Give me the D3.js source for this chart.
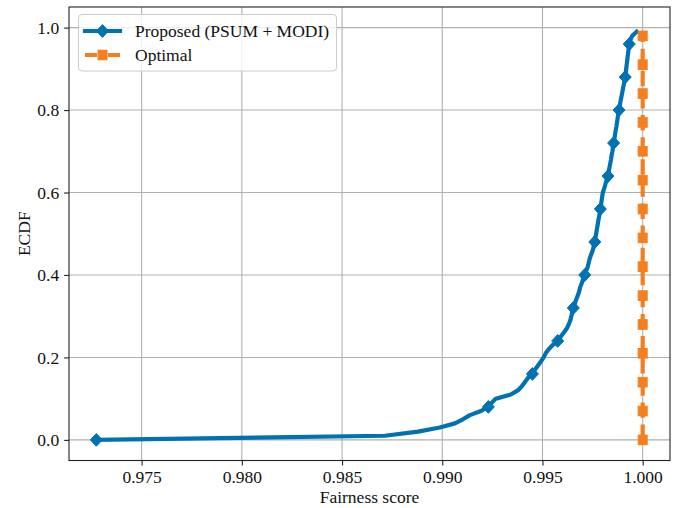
<!DOCTYPE html>
<html>
<head>
<meta charset="utf-8">
<script src="https://cdn.jsdelivr.net/npm/d3@7"></script>
<style>
  html, body { margin: 0; padding: 0; background: #fff; }
  svg { display: block; }
  text { font-family: "Liberation Serif", "DejaVu Serif", serif; fill: #111; }
</style>
</head>
<body>
<svg id="chart" width="680" height="508"></svg>
<script>
// Sorted fairness scores from the PSUM + MODI pipeline (100 runs)
const proposedScores = [
  0.97274, 0.98714, 0.98879, 0.98988, 0.99063, 0.99103, 0.99138, 0.99193, 0.99230, 0.99247,
  0.99267, 0.99342, 0.99377, 0.99397, 0.99412, 0.99427, 0.99450, 0.99462, 0.99477, 0.99492,
  0.99506, 0.99516, 0.99531, 0.99551, 0.99576, 0.99591, 0.99606, 0.99621, 0.99631, 0.99639,
  0.99644, 0.99649, 0.99654, 0.99661, 0.99668, 0.99676, 0.99683, 0.99688, 0.99696, 0.99703,
  0.99711, 0.99718, 0.99726, 0.99731, 0.99736, 0.99743, 0.99751, 0.99756, 0.99761, 0.99764,
  0.99768, 0.99771, 0.99775, 0.99778, 0.99782, 0.99786, 0.99789, 0.99792, 0.99795, 0.99798,
  0.99801, 0.99808, 0.99814, 0.99820, 0.99827, 0.99830, 0.99834, 0.99838, 0.99842, 0.99845,
  0.99849, 0.99852, 0.99855, 0.99859, 0.99862, 0.99865, 0.99869, 0.99872, 0.99875, 0.99878,
  0.99882, 0.99885, 0.99889, 0.99893, 0.99897, 0.99901, 0.99905, 0.99909, 0.99913, 0.99915,
  0.99918, 0.99920, 0.99923, 0.99925, 0.99928, 0.99930, 0.99933, 0.99938, 0.99948, 0.99970
];

// Optimal assignment reaches perfect fairness in every run
const optimalScores = [
  1.0, 1.0, 1.0, 1.0, 1.0, 1.0, 1.0, 1.0, 1.0, 1.0,
  1.0, 1.0, 1.0, 1.0, 1.0, 1.0, 1.0, 1.0, 1.0, 1.0,
  1.0, 1.0, 1.0, 1.0, 1.0, 1.0, 1.0, 1.0, 1.0, 1.0,
  1.0, 1.0, 1.0, 1.0, 1.0, 1.0, 1.0, 1.0, 1.0, 1.0,
  1.0, 1.0, 1.0, 1.0, 1.0, 1.0, 1.0, 1.0, 1.0, 1.0,
  1.0, 1.0, 1.0, 1.0, 1.0, 1.0, 1.0, 1.0, 1.0, 1.0,
  1.0, 1.0, 1.0, 1.0, 1.0, 1.0, 1.0, 1.0, 1.0, 1.0,
  1.0, 1.0, 1.0, 1.0, 1.0, 1.0, 1.0, 1.0, 1.0, 1.0,
  1.0, 1.0, 1.0, 1.0, 1.0, 1.0, 1.0, 1.0, 1.0, 1.0,
  1.0, 1.0, 1.0, 1.0, 1.0, 1.0, 1.0, 1.0, 1.0, 1.0
];

const seriesNames = ["Proposed (PSUM + MODI)", "Optimal"];
const xTicks = [0.975, 0.980, 0.985, 0.990, 0.995, 1.000];
const yTicks = [0.0, 0.2, 0.4, 0.6, 0.8, 1.0];
const xLabel = "Fairness score";
const yLabel = "ECDF";

const BLUE = "#0072b2";
const ORANGE = "#f57f20";

// Build ECDF points: i / n for the i-th sorted value
function ecdf(values) {
  const n = values.length;
  return values.map((v, i) => ({ x: v, y: i / n, i }));
}
const series = [
  { name: seriesNames[0], points: ecdf(proposedScores), color: BLUE, marker: "diamond", every: 8, dash: null },
  { name: seriesNames[1], points: ecdf(optimalScores), color: ORANGE, marker: "square", every: 7, dash: "15.4,6.7" }
];

const svg = d3.select("#chart");
const plot = { left: 69, right: 670, top: 7, bottom: 460.5 };

// Axis limits padded 5% around the data range
const allX = proposedScores.concat(optimalScores);
const xMin = d3.min(allX), xMax = d3.max(allX);
const xPad = (xMax - xMin) * 0.05;
const x = d3.scaleLinear().domain([xMin - xPad, xMax + xPad]).range([plot.left, plot.right]);
const y = d3.scaleLinear().domain([-0.05, 1.05]).range([plot.bottom, plot.top]);

// Grid
const grid = svg.append("g");
grid.selectAll("line.gx").data(xTicks).join("line")
  .attr("x1", d => x(d)).attr("x2", d => x(d))
  .attr("y1", plot.top).attr("y2", plot.bottom)
  .attr("stroke", "#b0b0b0").attr("stroke-width", 1.1);
grid.selectAll("line.gy").data(yTicks).join("line")
  .attr("x1", plot.left).attr("x2", plot.right)
  .attr("y1", d => y(d)).attr("y2", d => y(d))
  .attr("stroke", "#b0b0b0").attr("stroke-width", 1.1);

// Clip for data marks
svg.append("clipPath").attr("id", "plot-clip").append("rect")
  .attr("x", plot.left).attr("y", plot.top)
  .attr("width", plot.right - plot.left).attr("height", plot.bottom - plot.top);

const marks = svg.append("g").attr("clip-path", "url(#plot-clip)");
const line = d3.line().x(d => x(d.x)).y(d => y(d.y));

const diamondPath = "M0,-6.4L6,0L0,6.4L-6,0Z";
function drawMarker(sel, kind, color) {
  if (kind === "diamond") {
    sel.append("path").attr("d", diamondPath)
      .attr("fill", color).attr("stroke", color).attr("stroke-width", 1);
  } else {
    sel.append("rect").attr("x", -4.5).attr("y", -4.8).attr("width", 9).attr("height", 9.6)
      .attr("fill", color).attr("stroke", color).attr("stroke-width", 1);
  }
}

series.forEach(s => {
  const p = marks.append("path").datum(s.points)
    .attr("d", line)
    .attr("fill", "none")
    .attr("stroke", s.color)
    .attr("stroke-width", 4.2)
    .attr("stroke-linejoin", "round")
    .attr("stroke-linecap", s.dash ? "butt" : "square");
  if (s.dash) p.attr("stroke-dasharray", s.dash);
  const pts = s.points.filter(d => d.i % s.every === 0);
  marks.selectAll(null).data(pts).join("g")
    .attr("transform", d => `translate(${x(d.x)},${y(d.y)})`)
    .each(function () { drawMarker(d3.select(this), s.marker, s.color); });
});

// Axes
const fontSize = 17.5;
const xAxis = svg.append("g").attr("transform", `translate(0,${plot.bottom})`)
  .call(d3.axisBottom(x).tickValues(xTicks).tickFormat(d3.format(".3f")).tickSize(4.9).tickPadding(4.9));
const yAxis = svg.append("g").attr("transform", `translate(${plot.left},0)`)
  .call(d3.axisLeft(y).tickValues(yTicks).tickFormat(d3.format(".1f")).tickSize(4.9).tickPadding(4.9));
[xAxis, yAxis].forEach(a => {
  a.select(".domain").remove();
  a.selectAll(".tick line").attr("stroke", "#222").attr("stroke-width", 1.1);
  a.selectAll(".tick text").attr("font-family", "Liberation Serif").attr("font-size", fontSize).attr("fill", "#111");
});

// Spines
svg.append("rect")
  .attr("x", plot.left).attr("y", plot.top)
  .attr("width", plot.right - plot.left).attr("height", plot.bottom - plot.top)
  .attr("fill", "none").attr("stroke", "#222").attr("stroke-width", 1.1);

// Axis labels
svg.append("text")
  .attr("x", (plot.left + plot.right) / 2).attr("y", 503)
  .attr("text-anchor", "middle").attr("font-size", fontSize)
  .text(xLabel);
svg.append("text")
  .attr("transform", `translate(30,${(plot.top + plot.bottom) / 2}) rotate(-90)`)
  .attr("text-anchor", "middle").attr("font-size", fontSize)
  .text(yLabel);

// Legend
const legend = svg.append("g");
legend.append("rect")
  .attr("x", 78.5).attr("y", 14.5).attr("width", 258).attr("height", 56.5)
  .attr("rx", 3.5).attr("ry", 3.5)
  .attr("fill", "#fff").attr("fill-opacity", 0.8)
  .attr("stroke", "#cccccc").attr("stroke-width", 1);
series.forEach((s, k) => {
  const cy = 31 + k * 24;
  const g = legend.append("g");
  const l = g.append("line")
    .attr("x1", 85).attr("x2", 120).attr("y1", cy).attr("y2", cy)
    .attr("stroke", s.color).attr("stroke-width", 4.2)
    .attr("stroke-linecap", s.dash ? "butt" : "square");
  if (s.dash) l.attr("stroke-dasharray", "12,11,12");
  const m = g.append("g").attr("transform", `translate(102.5,${cy})`);
  drawMarker(m, s.marker, s.color);
  g.append("text")
    .attr("x", 135).attr("y", cy).attr("dy", "0.35em")
    .attr("font-size", fontSize)
    .text(s.name);
});
</script>
</body>
</html>
